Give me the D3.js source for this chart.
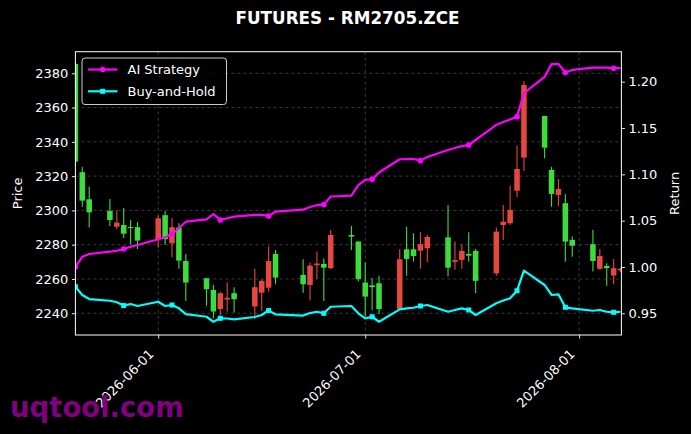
<!DOCTYPE html>
<html>
<head>
<meta charset="utf-8">
<script src="https://cdn.jsdelivr.net/npm/d3@7"></script>
<style>
  html, body { margin: 0; padding: 0; background: #000; }
  svg { display: block; }
  text { font-family: "DejaVu Sans", sans-serif; fill: #fff; }
</style>
</head>
<body>
<svg id="canvas" width="691" height="434"></svg>
<script>
// ************************************************************************************************** //
// Data

var dates = ['2026-05-20','2026-05-21','2026-05-22','2026-05-25','2026-05-26','2026-05-27','2026-05-28','2026-05-29',
  '2026-06-01','2026-06-02','2026-06-03','2026-06-04','2026-06-05','2026-06-08','2026-06-09','2026-06-10','2026-06-11','2026-06-12',
  '2026-06-15','2026-06-16','2026-06-17','2026-06-18','2026-06-22','2026-06-23','2026-06-24','2026-06-25','2026-06-26','2026-06-29',
  '2026-06-30','2026-07-01','2026-07-02','2026-07-03','2026-07-06','2026-07-07','2026-07-08','2026-07-09','2026-07-10','2026-07-13',
  '2026-07-14','2026-07-15','2026-07-16','2026-07-17','2026-07-20','2026-07-21','2026-07-22','2026-07-23','2026-07-24','2026-07-27',
  '2026-07-28','2026-07-29','2026-07-30','2026-07-31','2026-08-03','2026-08-04','2026-08-05','2026-08-06','2026-08-07'];

var open_px  = [2385.5,2322.3,2306.5,2299.7,2290.5,2291.5,2290.3,2290.2,2283.2,2297.2,2280.8,2290.0,2270.5,2260.4,2253.6,2242.4,2248.0,2251.7,
  2243.9,2252.0,2254.9,2274.6,2262.4,2256.5,2268.0,2268.8,2266.3,2285.7,2281.8,2257.9,2256.3,2257.5,2242.4,2277.3,2277.3,2276.5,2277.9,
  2284.3,2270.0,2271.1,2274.6,2276.4,2263.3,2291.5,2292.5,2311.5,2330.8,2355.1,2323.6,2309.0,2304.2,2282.8,2280.3,2265.9,2267.6,2262.0,2265.0];
var high_px  = [2386.0,2325.5,2313.9,2306.7,2300.1,2301.4,2294.4,2293.3,2297.2,2299.7,2295.6,2292.5,2274.6,2260.6,2256.5,2252.5,2258.0,2255.2,
  2265.9,2259.8,2278.9,2276.9,2271.5,2269.6,2276.0,2271.9,2288.6,2290.9,2282.0,2269.6,2260.4,2261.8,2277.3,2290.5,2286.7,2287.3,2285.7,
  2303.2,2281.8,2280.4,2287.3,2277.5,2290.0,2303.2,2314.4,2337.8,2375.5,2355.3,2325.5,2318.3,2309.6,2284.7,2288.6,2277.5,2269.2,2271.7,2266.5];
var low_px   = [2327.0,2302.2,2290.0,2290.9,2289.2,2283.9,2280.3,2277.5,2278.3,2280.0,2272.7,2266.0,2247.2,2244.3,2237.1,2237.0,2241.0,2240.4,
  2236.5,2241.5,2252.6,2256.9,2252.0,2247.4,2260.0,2247.2,2265.7,2276.9,2258.5,2238.4,2241.9,2239.6,2242.0,2261.8,2270.1,2265.9,2269.8,
  2261.4,2265.3,2265.9,2270.1,2251.7,2261.8,2282.8,2291.5,2307.7,2323.0,2330.4,2302.2,2302.6,2270.1,2273.0,2264.3,2265.3,2256.1,2256.9,2264.0];
var close_px = [2328.5,2305.7,2298.9,2294.4,2292.9,2286.4,2289.8,2282.4,2295.4,2283.2,2290.2,2270.7,2257.9,2254.0,2241.0,2251.7,2249.0,2248.2,
  2255.2,2258.9,2270.5,2260.8,2256.9,2267.8,2269.0,2266.6,2285.7,2284.7,2259.9,2249.7,2255.2,2242.4,2271.5,2271.7,2273.4,2280.3,2284.5,
  2266.6,2271.0,2276.4,2273.6,2258.9,2287.6,2293.4,2300.3,2324.2,2373.2,2336.6,2309.6,2312.5,2281.8,2279.4,2270.5,2273.4,2266.3,2266.3,2266.0];

var ai_return = [1.000,1.011,1.014,1.0165,1.0176,1.0194,1.0219,1.0238,1.0299,1.0321,1.0356,1.0418,1.0489,1.0515,1.0572,1.0508,1.0526,1.0543,
  1.0562,1.0562,1.0551,1.0597,1.0619,1.0648,1.0667,1.0673,1.0761,1.077,1.0885,1.094,1.0947,1.102,1.1163,1.1164,1.1166,1.1148,1.1188,
  1.1263,1.1285,1.1305,1.1317,1.1371,1.1533,1.1566,1.1593,1.1623,1.1876,1.2052,1.219,1.2193,1.210,1.2127,1.2152,1.2152,1.2152,1.2146,1.2146];
var bh_return = [0.9787,0.9698,0.9654,0.9636,0.9619,0.9584,0.960,0.9579,0.9625,0.9579,0.959,0.9554,0.9492,0.9463,0.9409,0.9446,0.9444,0.9435,
  0.946,0.9482,0.953,0.9489,0.9476,0.9503,0.9517,0.950,0.9571,0.9579,0.950,0.9446,0.9463,0.9409,0.9543,0.9554,0.956,0.9579,0.959,
  0.9517,0.9536,0.9554,0.9536,0.9482,0.9608,0.9638,0.9662,0.9744,0.996,0.9806,0.9698,0.9705,0.9565,0.9554,0.9528,0.9536,0.9517,0.9511,0.9517];

var price_ticks = [2240, 2260, 2280, 2300, 2320, 2340, 2360, 2380];
var return_ticks = [0.95, 1.00, 1.05, 1.10, 1.15, 1.20];
var date_ticks = ['2026-06-01', '2026-07-01', '2026-08-01'];

var title = 'FUTURES - RM2705.ZCE';
var series_names = ['AI Strategy', 'Buy-and-Hold'];

// ************************************************************************************************** //
// Setup

var parse = d3.timeParse('%Y-%m-%d');
var plot = { left: 75.4, right: 621.4, top: 51.7, bottom: 335 };

var up_color = '#e5483f', down_color = '#3ddc3d';
var ai_color = '#ff00ff', bh_color = '#00ffff';
var grid_color = '#4a4a4a';

var bars = dates.map((d, i) => {
  return { date: parse(d), o: open_px[i], h: high_px[i], l: low_px[i], c: close_px[i], ai: ai_return[i], bh: bh_return[i], i: i };
});

var xScale = d3.scaleTime()
  .domain([parse('2026-05-20'), d3.timeHour.offset(parse('2026-08-07'), 3)])
  .range([plot.left, plot.right]);
var yPrice = d3.scaleLinear().domain([2227.3, 2392.6]).range([plot.bottom, plot.top]);
var yReturn = d3.scaleLinear().domain([0.9266, 1.2324]).range([plot.bottom, plot.top]);

var svg = d3.select('#canvas');
svg.append('rect').attr('width', 691).attr('height', 434).attr('fill', '#000');

svg.append('defs').append('clipPath').attr('id', 'plot-clip')
  .append('rect').attr('x', plot.left).attr('y', plot.top)
  .attr('width', plot.right - plot.left).attr('height', plot.bottom - plot.top);

// ************************************************************************************************** //
// Grid

var grid = svg.append('g');
grid.selectAll('.hgrid').data(price_ticks).enter().append('line')
  .attr('x1', plot.left).attr('x2', plot.right)
  .attr('y1', d => yPrice(d)).attr('y2', d => yPrice(d))
  .attr('stroke', grid_color).attr('stroke-width', 0.8).attr('stroke-dasharray', '3,3');
grid.selectAll('.vgrid').data(date_ticks).enter().append('line')
  .attr('x1', d => xScale(parse(d))).attr('x2', d => xScale(parse(d)))
  .attr('y1', plot.top).attr('y2', plot.bottom)
  .attr('stroke', grid_color).attr('stroke-width', 0.8).attr('stroke-dasharray', '3,3');

// ************************************************************************************************** //
// Candles

var candle_g = svg.append('g').attr('clip-path', 'url(#plot-clip)');
var day_px = xScale(parse('2026-06-02')) - xScale(parse('2026-06-01'));
var body_w = 0.8 * day_px;

var candle = candle_g.selectAll('.candle').data(bars).enter().append('g');
candle.append('line')
  .attr('x1', d => xScale(d.date)).attr('x2', d => xScale(d.date))
  .attr('y1', d => yPrice(d.h)).attr('y2', d => yPrice(d.l))
  .attr('stroke', d => d.c >= d.o ? up_color : down_color).attr('stroke-width', 1.1);
candle.append('rect')
  .attr('x', d => xScale(d.date) - body_w / 2).attr('width', body_w)
  .attr('y', d => yPrice(Math.max(d.o, d.c)))
  .attr('height', d => Math.max(1, Math.abs(yPrice(d.o) - yPrice(d.c))))
  .attr('fill', d => d.c >= d.o ? up_color : down_color);

// ************************************************************************************************** //
// Return lines

var line_g = svg.append('g').attr('clip-path', 'url(#plot-clip)');
var ai_line = d3.line().x(d => xScale(d.date)).y(d => yReturn(d.ai));
var bh_line = d3.line().x(d => xScale(d.date)).y(d => yReturn(d.bh));

line_g.append('path').attr('d', bh_line(bars))
  .attr('fill', 'none').attr('stroke', bh_color).attr('stroke-width', 2.2).attr('stroke-linejoin', 'round');
line_g.append('path').attr('d', ai_line(bars))
  .attr('fill', 'none').attr('stroke', ai_color).attr('stroke-width', 2.2).attr('stroke-linejoin', 'round');

var marked = bars.filter(d => d.i % 5 == 0);
line_g.selectAll('.bh-mark').data(marked).enter().append('rect')
  .attr('x', d => xScale(d.date) - 2.5).attr('y', d => yReturn(d.bh) - 2.5)
  .attr('width', 5).attr('height', 5).attr('fill', bh_color);
line_g.selectAll('.ai-mark').data(marked).enter().append('circle')
  .attr('cx', d => xScale(d.date)).attr('cy', d => yReturn(d.ai)).attr('r', 2.8)
  .attr('fill', ai_color);

// ************************************************************************************************** //
// Axes

function styleAxis(g){
  g.select('.domain').remove();
  g.selectAll('line').attr('stroke', '#fff').attr('stroke-width', 0.9);
  g.selectAll('text').attr('fill', '#fff').style('font-size', '13px').style('font-family', '"DejaVu Sans", sans-serif');
}

svg.append('g').attr('transform', 'translate(' + plot.left + ',0)')
  .call(d3.axisLeft(yPrice).tickValues(price_ticks).tickFormat(d3.format('d')).tickSize(3.5).tickPadding(3.5))
  .call(styleAxis);

svg.append('g').attr('transform', 'translate(' + plot.right + ',0)')
  .call(d3.axisRight(yReturn).tickValues(return_ticks).tickFormat(d3.format('.2f')).tickSize(3.5).tickPadding(3.5))
  .call(styleAxis);

var x_axis = svg.append('g').attr('transform', 'translate(0,' + plot.bottom + ')')
  .call(d3.axisBottom(xScale).tickValues(date_ticks.map(parse)).tickFormat(d3.timeFormat('%Y-%m-%d')).tickSize(3.5))
  .call(styleAxis);
x_axis.selectAll('text')
  .attr('text-anchor', 'end').attr('dy', null).attr('y', null)
  .attr('transform', 'translate(-4,20) rotate(-45)');

svg.append('rect')
  .attr('x', plot.left).attr('y', plot.top)
  .attr('width', plot.right - plot.left).attr('height', plot.bottom - plot.top)
  .attr('fill', 'none').attr('stroke', '#fff').attr('stroke-width', 1);

// labels
svg.append('text').attr('transform', 'translate(22,' + (plot.top + plot.bottom) / 2 + ') rotate(-90)')
  .attr('text-anchor', 'middle').style('font-size', '13px').text('Price');
svg.append('text').attr('transform', 'translate(679,' + (plot.top + plot.bottom) / 2 + ') rotate(-90)')
  .attr('text-anchor', 'middle').style('font-size', '13px').text('Return');

svg.append('text').attr('x', 347.5).attr('y', 24)
  .attr('text-anchor', 'middle').style('font-size', '16.8px').style('font-weight', 'bold').text(title);

// ************************************************************************************************** //
// Legend

var legend = svg.append('g');
legend.append('rect').attr('x', 82).attr('y', 58).attr('width', 144.5).attr('height', 46.5).attr('rx', 3)
  .attr('fill', '#000').attr('fill-opacity', 0.8).attr('stroke', '#cccccc').attr('stroke-width', 1);

var legend_rows = [
  { name: series_names[0], color: ai_color, y: 69.5, shape: 'circle' },
  { name: series_names[1], color: bh_color, y: 91.3, shape: 'square' }
];
legend_rows.forEach((r) => {
  legend.append('line').attr('x1', 88).attr('x2', 117.5).attr('y1', r.y).attr('y2', r.y)
    .attr('stroke', r.color).attr('stroke-width', 2.2);
  if(r.shape == 'circle'){
    legend.append('circle').attr('cx', 102.7).attr('cy', r.y).attr('r', 2.8).attr('fill', r.color);
  } else {
    legend.append('rect').attr('x', 100.2).attr('y', r.y - 2.5).attr('width', 5).attr('height', 5).attr('fill', r.color);
  }
  legend.append('text').attr('x', 127.5).attr('y', r.y + 4.7).style('font-size', '13px').text(r.name);
});

// watermark
svg.append('text').attr('x', 10).attr('y', 417)
  .style('font-size', '27.5px').style('font-weight', 'bold').style('fill', '#800080')
  .text('uqtool.com');
</script>
</body>
</html>
